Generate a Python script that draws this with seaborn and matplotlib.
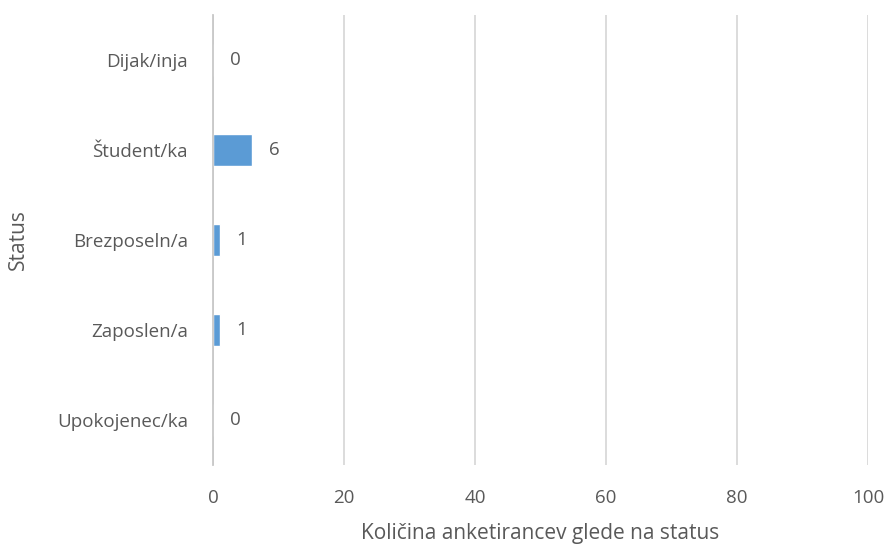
import matplotlib
matplotlib.use("Agg")
import matplotlib.pyplot as plt
import seaborn as sns
import pandas as pd

categories = ["Dijak/inja", "Študent/ka", "Brezposeln/a", "Zaposlen/a", "Upokojenec/ka"]
counts = [0, 6, 1, 1, 0]
x_ticks = [0, 20, 40, 60, 80, 100]
x_label = "Količina anketirancev glede na status"
y_label = "Status"

sns.set_theme(style="white")
plt.rcParams["font.family"] = ["Open Sans", "DejaVu Sans"]

text_color = "#595959"
grid_color = "#D9D9D9"
bar_color = "#5B9BD5"

df = pd.DataFrame({"status": categories, "count": counts})

fig = plt.figure(figsize=(8.9, 5.46), dpi=100)
ax = fig.add_axes([0.2393, 0.1484, 0.7360, 0.8241])

sns.barplot(data=df, y="status", x="count", order=categories, color=bar_color,
            width=0.36, saturation=1, ax=ax, zorder=3)

ax.set_xlim(0, 100)
ax.set_xticks(x_ticks)
ax.set_xticklabels([str(t) for t in x_ticks])
ax.set_ylim(len(categories) - 0.5, -0.5)

ax.grid(axis="x", color=grid_color, linewidth=1.3, zorder=0)
ax.grid(axis="y", visible=False)
for side in ["top", "right", "bottom"]:
    ax.spines[side].set_visible(False)
ax.spines["left"].set_color("#C8C8C8")
ax.spines["left"].set_linewidth(1.3)
ax.spines["left"].set_zorder(4)

ax.tick_params(axis="x", length=0, pad=17, labelsize=13.5, labelcolor=text_color)
ax.tick_params(axis="y", length=0, pad=18, labelsize=13.5, labelcolor=text_color)

ax.set_xlabel(x_label, fontsize=15, color=text_color, labelpad=12)
ax.set_ylabel(y_label, fontsize=15, color=text_color, labelpad=20)

for i, v in enumerate(counts):
    ax.annotate(str(v), xy=(v, i), xytext=(12, 0), textcoords="offset points",
                ha="left", va="center", fontsize=13.5, color=text_color)

fig.savefig("out.png", dpi=100)
